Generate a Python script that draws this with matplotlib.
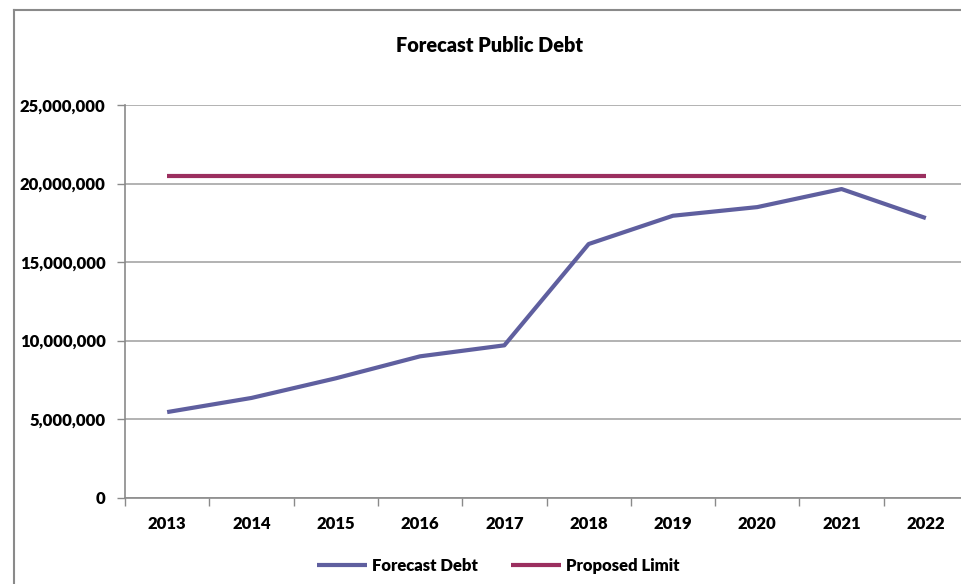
import matplotlib.pyplot as plt
from matplotlib.lines import Line2D
from matplotlib.ticker import FuncFormatter, FixedLocator
import numpy as np

plt.rcParams['font.family'] = ['Lato', 'DejaVu Sans']

years = ['2013', '2014', '2015', '2016', '2017', '2018', '2019', '2020', '2021', '2022']
forecast_debt = [5450000, 6350000, 7600000, 9000000, 9700000,
                 16150000, 17950000, 18500000, 19650000, 17800000]
proposed_limit = [20480000] * 10

fig = plt.figure(figsize=(9.62, 5.84), dpi=100)

# outer chart frame (left and top edges fall inside the image)
fx, fy = 14.5 / 962, 1 - 10 / 584
fig.add_artist(Line2D([fx, fx], [0, fy], transform=fig.transFigure,
                      color='#8a8a8a', linewidth=1.5))
fig.add_artist(Line2D([fx, 1], [fy, fy], transform=fig.transFigure,
                      color='#8a8a8a', linewidth=1.5))

ax = fig.add_axes([125 / 962, 1 - 497.7 / 584, 843 / 962, (497.7 - 105) / 584])

x = np.arange(len(years)) + 0.5
ax.plot(x, forecast_debt, color='#5f5f9f', linewidth=3, label='Forecast Debt',
        solid_capstyle='butt')
ax.plot(x, proposed_limit, color='#9b2f5f', linewidth=3, label='Proposed Limit',
        solid_capstyle='butt')

ax.set_xlim(0, len(years))
ax.set_ylim(0, 25000000)
ax.set_yticks(np.arange(0, 25000001, 5000000))
ax.yaxis.set_major_formatter(FuncFormatter(lambda v, p: f'{int(v):,}'))
ax.grid(axis='y', color='#a6a6a6', linewidth=1.2)
ax.set_axisbelow(True)

ax.xaxis.set_major_locator(FixedLocator(np.arange(0, len(years) + 1)))
ax.xaxis.set_minor_locator(FixedLocator(x))
ax.set_xticklabels([], minor=False)
ax.set_xticklabels(years, minor=True)
ax.tick_params(axis='x', which='major', length=6, color='#8a8a8a', width=1)
ax.tick_params(axis='x', which='minor', length=0, pad=13)
ax.tick_params(axis='y', length=6, color='#8a8a8a', width=1, pad=8)
for lbl in ax.get_xticklabels(minor=True) + ax.get_yticklabels():
    lbl.set_fontsize(12)
    lbl.set_fontweight('heavy')

for side in ['top', 'right']:
    ax.spines[side].set_visible(False)
for side in ['left', 'bottom']:
    ax.spines[side].set_color('#8a8a8a')
    ax.spines[side].set_linewidth(1.2)

fig.text(490 / 962, 1 - 45 / 584, 'Forecast Public Debt', ha='center', va='center',
         fontsize=14.3, fontweight='heavy')

leg = fig.legend(loc='center', bbox_to_anchor=(498 / 962, 1 - 566 / 584), ncol=2,
                 frameon=False, handlelength=3.0, handletextpad=0.3, columnspacing=2.0,
                 prop={'size': 12, 'weight': 'heavy'})

fig.savefig('out.png', dpi=100)
